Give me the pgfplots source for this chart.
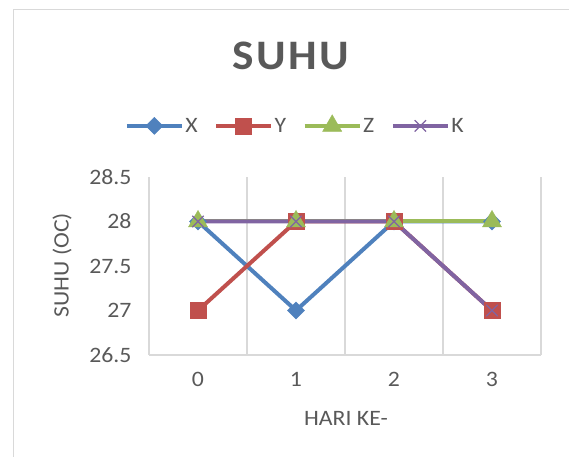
\documentclass[border=0pt]{standalone}
\usepackage{fontspec}
\setmainfont[FakeStretch=1.08]{Carlito}
\usepackage{pgfplots}
\pgfplotsset{compat=1.18}
\definecolor{cX}{RGB}{79,129,189}
\definecolor{cY}{RGB}{192,80,77}
\definecolor{cZ}{RGB}{155,187,89}
\definecolor{cK}{RGB}{128,100,162}
\definecolor{txt}{RGB}{89,89,89}
\definecolor{gridc}{RGB}{217,217,217}
\newcommand{\lbl}{\fontsize{22bp}{26bp}\selectfont\color{txt}}
\begin{document}
\begin{tikzpicture}
\useasboundingbox (0bp,0bp) rectangle (569bp,457bp);
\draw[gridc, line width=1bp] (13bp,-10bp) rectangle (590bp,447bp);
\node[font=\fontsize{42bp}{50bp}\selectfont\bfseries\addfontfeature{LetterSpace=6}, text=txt] at (291bp,401bp) {SUHU};
\node[rotate=90, font=\lbl] at (62bp,192bp) {SUHU (OC)};
\node[font=\lbl] at (346bp,39bp) {HARI KE-};
\begin{axis}[
    at={(149bp,102bp)}, anchor=south west,
    scale only axis,
    width=392bp, height=178bp,
    xmin=-0.5, xmax=3.5,
    ymin=26.5, ymax=28.5,
    xtick={0,1,2,3},
    ytick={26.5,27,27.5,28,28.5},
    yticklabels={26.5,27,27.5,28,28.5},
    minor xtick={-0.5,0.5,1.5,2.5,3.5},
    xminorgrids=true,
    minor x grid style={gridc, line width=1.2bp},
    major tick length=0pt,
    minor tick length=0pt,
    axis x line*=bottom,
    axis y line*=left,
    x axis line style={gridc, line width=1.2bp, -},
    y axis line style={draw=none},
    tick label style={font=\lbl},
    /pgf/number format/assume math mode=true,
    yticklabel style={xshift=-14bp},
    xticklabel style={yshift=-14bp},
    clip=false,
    legend columns=-1,
    legend style={at={(0.3724,1.292)}, anchor=center, draw=none, fill=none,
        font=\lbl, nodes={inner sep=1.5bp},
        /tikz/every even column/.append style={column sep=15bp}},
    legend image code/.code={\draw[#1, mark repeat=2, mark phase=2] plot coordinates {(0bp,0bp) (27.5bp,0bp) (55bp,0bp)};},
]
\addplot[cX, line width=4bp, mark size=6bp, mark=square*, mark options={rotate=45, fill=cX, line width=0.5bp}]
    coordinates {(0,28) (1,27) (2,28) (3,28)};
\addlegendentry{X}
\addplot[cY, line width=4bp, mark size=8bp, mark=square*, mark options={fill=cY, line width=0.5bp}]
    coordinates {(0,27) (1,28) (2,28) (3,27)};
\addlegendentry{Y}
\addplot[cZ, line width=4bp, mark size=11bp, mark=triangle*, mark options={fill=cZ, line width=0.5bp}]
    coordinates {(0,28) (1,28) (2,28) (3,28)};
\addlegendentry{Z}
\addplot[cK, line width=4bp, mark size=8bp, mark=x, mark options={line width=1.2bp}]
    coordinates {(0,28) (1,28) (2,28) (3,27)};
\addlegendentry{K}
\end{axis}
\end{tikzpicture}
\end{document}
